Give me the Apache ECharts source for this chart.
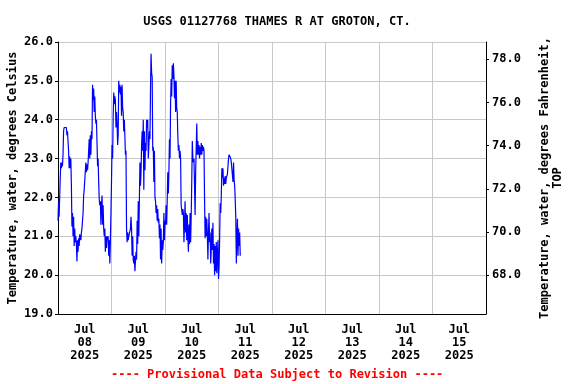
<!DOCTYPE html>
<html>
<head>
<meta charset="utf-8">
<script src="https://cdn.jsdelivr.net/npm/echarts@6/dist/echarts.min.js"></script>
<style>
  html, body { margin: 0; padding: 0; background: #fff; }
  #chart { width: 576px; height: 384px; }
</style>
</head>
<body>
<div id="chart"></div>
<script>
// 15-minute water temperature readings (deg C), one array per day
const jul08 = [
  21.4, 21.9, 21.5, 22.0, 22.5, 22.9, 22.75, 22.9, 22.8, 23.1, 23.7, 23.8,
  23.85, 23.8, 23.85, 23.8, 23.6, 23.7, 23.45, 23.2, 22.75, 23.05, 22.75, 23.0,
  22.35, 21.25, 21.6, 21.0, 21.5, 20.75, 21.2, 20.85, 21.0, 20.8, 20.35, 20.9,
  20.6, 20.95, 20.75, 21.05, 21.0, 20.9, 21.1, 21.2, 21.15, 21.6, 22.05, 22.2,
  22.15, 22.2, 22.9, 22.65, 22.85, 22.7, 22.9, 23.2, 23.5, 23.0, 23.6, 23.1,
  23.7, 23.5, 24.9, 24.5, 24.8, 24.2, 24.6, 24.1, 23.9, 24.0, 23.4, 22.8,
  23.0, 22.4, 21.95, 21.8, 21.9, 21.3, 21.8, 22.05, 21.3, 21.8, 21.2, 21.0,
  21.2, 20.6, 21.0, 20.7, 21.0, 20.9, 21.0, 20.5, 20.9, 20.3, 20.9, 21.6
];
const jul09 = [
  22.4, 23.35, 23.0, 24.1, 24.7, 24.4, 24.6, 24.5, 23.8, 24.2, 23.9, 23.35,
  23.6, 25.0, 24.7, 24.9, 24.65, 24.85, 24.1, 24.9, 24.3, 24.2, 23.7, 24.0,
  23.6, 23.1, 23.2, 21.2, 20.85, 21.1, 20.9, 21.0, 20.95, 21.05, 21.2, 21.5,
  21.2, 20.5, 21.0, 20.4, 20.3, 20.5, 20.1, 20.35, 20.6, 20.4, 21.4, 20.8,
  21.9, 21.0, 21.9, 22.9, 22.3, 22.65, 23.35, 23.7, 23.2, 24.0, 22.2, 23.7,
  22.7, 23.4, 23.2, 24.0, 23.8, 24.0, 23.0, 23.3, 23.7, 23.5, 24.8, 25.7,
  25.2, 25.1, 23.2, 23.3, 22.4, 23.2, 22.0, 21.9, 21.6, 21.8, 21.4, 21.7,
  21.35, 21.45, 20.95, 21.3, 20.4, 21.2, 20.3, 20.9, 20.65, 20.85, 21.6, 20.9
];
const jul10 = [
  21.4, 21.3, 21.8, 21.3, 21.95, 22.65, 22.1, 22.65, 23.5, 23.0, 24.4, 25.05,
  24.6, 25.4, 25.05, 25.45, 25.15, 24.55, 25.0, 24.2, 25.0, 24.3, 24.2, 23.6,
  23.2, 23.35, 23.0, 23.2, 23.0, 21.8, 21.8, 21.55, 21.7, 21.6, 20.85, 21.3,
  21.9, 21.1, 21.6, 20.9, 21.55, 21.0, 20.6, 21.3, 20.8, 21.6, 20.85, 21.5,
  22.4, 23.45, 23.0, 22.9, 23.0, 22.3, 21.55, 22.65, 22.7, 23.9, 23.1, 23.45,
  23.1, 23.35, 23.0, 23.3, 23.1, 23.4, 23.1, 23.35, 23.2, 23.3, 23.2, 21.95,
  20.95, 21.5, 21.0, 21.45, 21.0, 20.4, 21.1, 21.6, 20.85, 21.1, 20.3, 20.65,
  21.2, 20.65, 21.35, 20.3, 20.8, 20.0, 20.75, 20.1, 20.85, 20.05, 20.5, 20.9
];
const jul11 = [
  19.9, 20.2, 20.9, 21.85, 21.6, 22.05, 22.75, 22.5, 22.75, 22.3, 22.5, 22.35,
  22.55, 22.35, 22.5, 22.45, 22.6, 22.65, 23.0, 23.1, 23.1, 23.05, 23.0, 22.9,
  22.95, 22.9, 22.4, 22.9, 22.45, 22.3, 21.95, 21.5, 20.3, 21.0, 21.45, 20.5,
  21.2, 20.75, 21.1, 20.5
];

// x axis day labels (one per day, centred on the day)
const dayLabels = ['Jul\n08\n2025', 'Jul\n09\n2025', 'Jul\n10\n2025', 'Jul\n11\n2025',
                   'Jul\n12\n2025', 'Jul\n13\n2025', 'Jul\n14\n2025', 'Jul\n15\n2025'];
// fahrenheit tick labels on the right axis
const fahrenheitTicks = [68, 70, 72, 74, 76, 78];

const startTime = Date.UTC(2025, 6, 8);
const dayMs = 86400000;
const stepMs = 15 * 60 * 1000;

const temps = jul08.concat(jul09, jul10, jul11);
const seriesData = temps.map((v, i) => [startTime + i * stepMs, v]);

const font = 'DejaVu Sans Mono';

var chartDom = document.getElementById('chart');
var myChart = echarts.init(chartDom);
var option = {
  animation: false,
  title: {
    text: 'USGS 01127768 THAMES R AT GROTON, CT.',
    left: 272,
    top: 11,
    textAlign: 'center',
    textStyle: { fontFamily: font, fontWeight: 'bold', fontSize: 12, color: '#000' }
  },
  grid: { left: 58, right: 90, top: 42, bottom: 70, containLabel: false, outerBoundsMode: 'none' },
  xAxis: [
    {
      type: 'value',
      min: startTime,
      max: startTime + 8 * dayMs,
      interval: dayMs,
      axisLine: { show: true, lineStyle: { color: '#000', width: 1 } },
      axisTick: { show: false },
      axisLabel: { show: false },
      splitLine: { show: true, lineStyle: { color: '#c8c8c8', width: 1 } }
    },
    {
      type: 'category',
      data: dayLabels,
      boundaryGap: true,
      position: 'bottom',
      axisLine: { show: false },
      axisTick: { show: false },
      splitLine: { show: false },
      axisLabel: {
        margin: 9,
        lineHeight: 13,
        fontFamily: font,
        fontWeight: 'bold',
        fontSize: 12,
        color: '#000'
      }
    }
  ],
  yAxis: [
    {
      type: 'value',
      min: 19,
      max: 26,
      interval: 1,
      name: 'Temperature, water, degrees Celsius',
      nameLocation: 'middle',
      nameRotate: 90,
      nameGap: 45,
      nameMoveOverlap: false,
      nameTextStyle: { fontFamily: font, fontWeight: 'bold', fontSize: 12, color: '#000', verticalAlign: 'middle' },
      axisLine: { show: true, lineStyle: { color: '#000', width: 1 } },
      axisTick: { show: true, length: 3, lineStyle: { color: '#000' } },
      axisLabel: {
        margin: 5,
        fontFamily: font,
        fontWeight: 'bold',
        fontSize: 12,
        color: '#000',
        formatter: v => v.toFixed(1)
      },
      splitLine: { show: true, lineStyle: { color: '#c8c8c8', width: 1 } }
    },
    {
      type: 'value',
      position: 'right',
      min: 19 * 1.8 + 32,
      max: 26 * 1.8 + 32,
      name: 'Temperature, water, degrees Fahrenheit,\nTOP',
      nameLocation: 'middle',
      nameRotate: 90,
      nameGap: 52,
      nameTextStyle: { fontFamily: font, fontWeight: 'bold', fontSize: 12, color: '#000', lineHeight: 13 },
      axisLine: { show: true, lineStyle: { color: '#000', width: 1 } },
      axisTick: { show: true, length: 3, customValues: fahrenheitTicks, lineStyle: { color: '#000' } },
      axisLabel: {
        margin: 6,
        fontFamily: font,
        fontWeight: 'bold',
        fontSize: 12,
        color: '#000',
        customValues: fahrenheitTicks,
        formatter: v => v.toFixed(1)
      },
      splitLine: { show: false }
    }
  ],
  graphic: [
    {
      type: 'text',
      left: 111,
      top: 369,
      style: {
        text: '---- Provisional Data Subject to Revision ----',
        fontFamily: font,
        fontWeight: 'bold',
        fontSize: 12,
        fill: '#ff0000'
      }
    }
  ],
  series: [
    {
      type: 'line',
      xAxisIndex: 0,
      yAxisIndex: 0,
      data: seriesData,
      showSymbol: false,
      lineStyle: { color: '#0000ff', width: 1.2 },
      z: 3
    }
  ]
};
option && myChart.setOption(option);
</script>
</body>
</html>
